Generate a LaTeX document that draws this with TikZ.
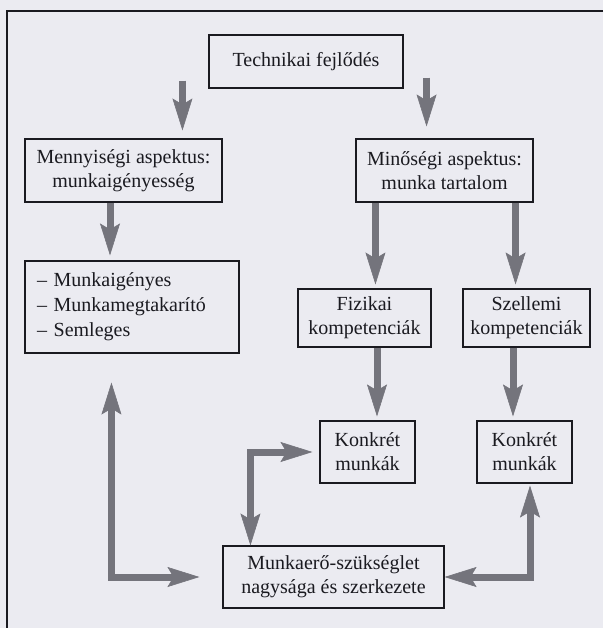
\documentclass[tikz,border=0pt]{standalone}
\usepackage{fontspec}
\setmainfont{Liberation Serif}
\usetikzlibrary{arrows.meta,calc}
\definecolor{bg}{HTML}{EBEBF1}
\definecolor{ink}{HTML}{1A1A20}
\definecolor{arrowgray}{HTML}{74747C}
\begin{document}
\begin{tikzpicture}[x=1pt,y=-1pt,
  box/.style={draw=ink, line width=1.1pt, text=ink, inner sep=0pt, align=center,
    font=\fontsize{20}{24}\selectfont},
  headtip/.tip={Stealth[length=32pt,width=20pt,inset=6pt,line width=0.6pt]},
  arr/.style={draw=arrowgray, line width=7pt, -headtip},
  dbl/.style={draw=arrowgray, line width=7pt, headtip-headtip}]
\fill[bg] (0,0) rectangle (603,628);
\useasboundingbox (0,0) rectangle (603,628);
% frame (cropped at right and bottom)
\draw[ink, line width=1.4pt] (603,11) -- (7,11) -- (7,628);

% boxes
\node[box, minimum width=194pt, minimum height=53pt] (T) at (306,61.5) {Technikai fejlődés};
\node[box, minimum width=197pt, minimum height=63pt] (MA) at (123.5,170.5) {Mennyiségi aspektus:\\munkaigényesség};
\node[box, minimum width=177pt, minimum height=63pt] (MI) at (444.5,170.5) {Minőségi aspektus:\\munka tartalom};
\node[box, align=left, text width=190pt, inner xsep=12pt, minimum height=92pt,
      font=\fontsize{20}{25}\selectfont] (L) at (132,307) {– Munkaigényes\\– Munkamegtakarító\\– Semleges};
\node[box, minimum width=133pt, minimum height=58pt] (F) at (364.5,318) {Fizikai\\kompetenciák};
\node[box, minimum width=127pt, minimum height=58pt] (S) at (526.5,318) {Szellemi\\kompetenciák};
\node[box, minimum width=95pt, minimum height=62pt] (K1) at (367.5,452) {Konkrét\\munkák};
\node[box, minimum width=95pt, minimum height=62pt] (K2) at (524.5,452) {Konkrét\\munkák};
\node[box, minimum width=221pt, minimum height=62pt] (M) at (333.5,577) {Munkaerő-szükséglet\\nagysága és szerkezete};

% straight arrows
\coordinate (a1s) at ($(T.south west)+(-26,-8)$);
\draw[arr] (a1s) -- ($(a1s |- MA.north)+(0,-8)$);
\coordinate (a2s) at ($(T.south east)+(23,-11)$);
\draw[arr] (a2s) -- ($(a2s |- MI.north)+(0,-12)$);
\coordinate (a3s) at ($(MA.south)+(-13.5,0)$);
\draw[arr] (a3s) -- ($(a3s |- L.north)+(0,-5)$);
\coordinate (a4s) at ($(MI.south west)+(20,0)$);
\draw[arr] (a4s) -- ($(a4s |- F.north)+(0,-4)$);
\coordinate (a5s) at ($(MI.south east)+(-18,0)$);
\draw[arr] (a5s) -- ($(a5s |- S.north)+(0,-4)$);
\coordinate (a6s) at ($(F.south)+(12.5,0)$);
\draw[arr] (a6s) -- ($(a6s |- K1.north)+(0,-4)$);
\coordinate (a7s) at ($(S.south)+(-13.5,0)$);
\draw[arr] (a7s) -- ($(a7s |- K2.north)+(0,-4)$);

% L-shaped double arrows
\coordinate (d1a) at ($(K1.west)+(-7,0)$);
\coordinate (d1b) at ($(M.north west)+(28,0)$);
\draw[dbl] (d1a) -| (d1b);
\coordinate (d2a) at ($(L.south west)+(87,29)$);
\coordinate (d2b) at ($(M.west)+(-23,0)$);
\draw[dbl] (d2a) |- (d2b);
\coordinate (d3a) at ($(K2.south)+(5.5,2)$);
\draw[dbl] (M.east) -| (d3a);
\end{tikzpicture}
\end{document}
